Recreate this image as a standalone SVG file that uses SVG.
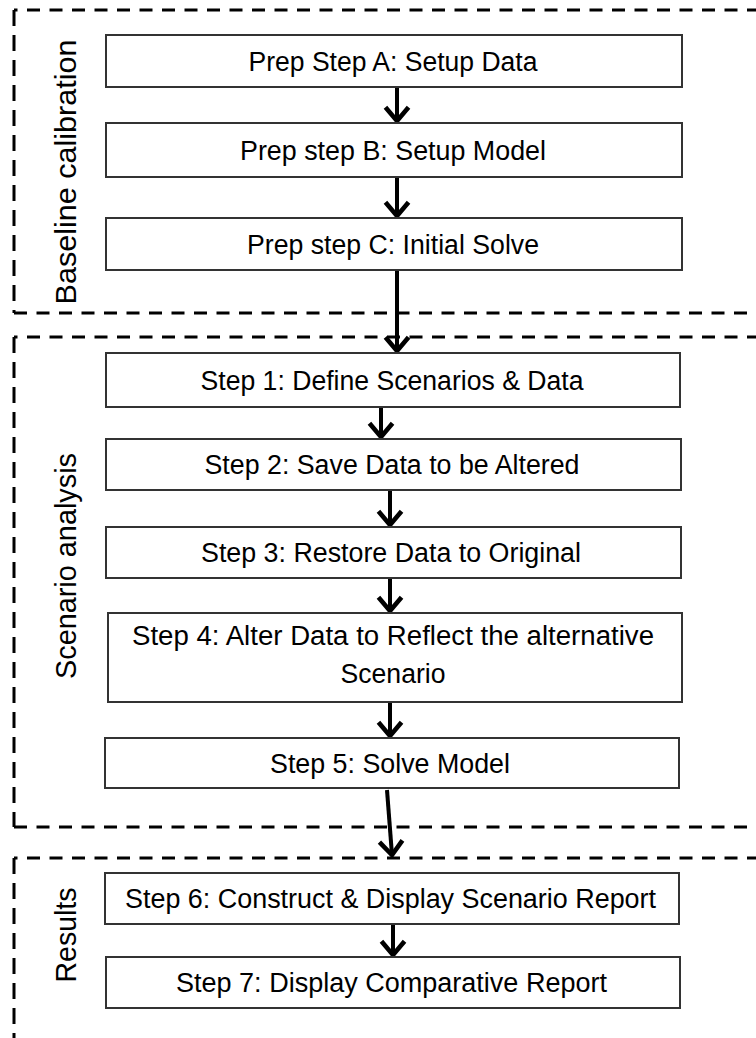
<svg xmlns="http://www.w3.org/2000/svg" width="756" height="1038" viewBox="0 0 756 1038">
<defs>
<style>
.grp{fill:none;stroke:#000;stroke-width:3}
.h{stroke-dasharray:13 9.5}
.v{stroke-dasharray:16 9}
.box{fill:#fff;stroke:#333;stroke-width:2}
.t{font-family:"Liberation Sans",Arial,sans-serif;font-size:27px;fill:#000;text-anchor:middle}
.lbl{font-family:"Liberation Sans",Arial,sans-serif;font-size:30px;fill:#000;text-anchor:middle}
.arr{fill:none;stroke:#000;stroke-width:4;marker-end:url(#ah)}
</style>
<marker id="ah" markerUnits="userSpaceOnUse" markerWidth="30" markerHeight="30" viewBox="-16 -13 20 26" refX="0" refY="0" orient="auto">
<path d="M -12 -10 L 0 0 L -12 10" fill="none" stroke="#000" stroke-width="4" stroke-linejoin="miter"/>
</marker>
</defs>
<rect width="756" height="1038" fill="#fff"/>
<g id="groups">
<g id="baseline-group">
<path class="grp h" d="M 760 10 H 14"/>
<path class="grp v" d="M 14 10 V 313"/>
<path class="grp h" d="M 14 313 H 760"/>
<text class="lbl" x="76" y="172" transform="rotate(-90 76 172)" textLength="265" lengthAdjust="spacingAndGlyphs">Baseline calibration</text>
</g>
<g id="scenario-group">
<path class="grp h" d="M 760 337 H 14"/>
<path class="grp v" d="M 14 337 V 827"/>
<path class="grp h" d="M 14 827 H 760"/>
<text class="lbl" x="76" y="566" transform="rotate(-90 76 566)" textLength="226" lengthAdjust="spacingAndGlyphs">Scenario analysis</text>
</g>
<g id="results-group">
<path class="grp h" d="M 760 858 H 14"/>
<path class="grp v" d="M 14 858 V 1040"/>
<text class="lbl" x="76" y="935" transform="rotate(-90 76 935)" textLength="95" lengthAdjust="spacingAndGlyphs">Results</text>
</g>
</g>
<g id="connectors">
<path class="arr" d="M 397 87 V 121"/>
<path class="arr" d="M 397 177 V 216"/>
<path class="arr" d="M 397 271 V 351"/>
<path class="arr" d="M 381 407 V 437"/>
<path class="arr" d="M 390 490 V 525"/>
<path class="arr" d="M 390 578 V 611"/>
<path class="arr" d="M 390 702 V 736"/>
<path class="arr" d="M 387 790 L 392 855"/>
<path class="arr" d="M 393 924 V 955"/>
</g>
<g id="stepA"><rect class="box" x="106" y="35" width="576" height="52"/><text class="t" x="393" y="70.5" textLength="289" lengthAdjust="spacingAndGlyphs">Prep Step A: Setup Data</text></g>
<g id="stepB"><rect class="box" x="106" y="123" width="576" height="54"/><text class="t" x="393" y="159.5" textLength="306" lengthAdjust="spacingAndGlyphs">Prep step B: Setup Model</text></g>
<g id="stepC"><rect class="box" x="106" y="218" width="576" height="52"/><text class="t" x="393" y="253.5" textLength="292" lengthAdjust="spacingAndGlyphs">Prep step C: Initial Solve</text></g>
<g id="step1"><rect class="box" x="106" y="353" width="574" height="54"/><text class="t" x="392" y="389.5" textLength="383" lengthAdjust="spacingAndGlyphs">Step 1: Define Scenarios &amp; Data</text></g>
<g id="step2"><rect class="box" x="106" y="439" width="575" height="51"/><text class="t" x="392" y="474" textLength="375" lengthAdjust="spacingAndGlyphs">Step 2: Save Data to be Altered</text></g>
<g id="step3"><rect class="box" x="106" y="527" width="575" height="51"/><text class="t" x="391" y="562" textLength="380" lengthAdjust="spacingAndGlyphs">Step 3: Restore Data to Original</text></g>
<g id="step4"><rect class="box" x="108" y="613" width="574" height="89"/><text class="t" x="393" y="645" textLength="522" lengthAdjust="spacingAndGlyphs">Step 4: Alter Data to Reflect the alternative</text><text class="t" x="393" y="683" textLength="105" lengthAdjust="spacingAndGlyphs">Scenario</text></g>
<g id="step5"><rect class="box" x="105" y="738" width="574" height="50"/><text class="t" x="390" y="772.5" textLength="240" lengthAdjust="spacingAndGlyphs">Step 5: Solve Model</text></g>
<g id="step6"><rect class="box" x="105" y="873" width="574" height="51"/><text class="t" x="390.5" y="908" textLength="531" lengthAdjust="spacingAndGlyphs">Step 6: Construct &amp; Display Scenario Report</text></g>
<g id="step7"><rect class="box" x="106" y="957" width="574" height="51"/><text class="t" x="391.5" y="992" textLength="431" lengthAdjust="spacingAndGlyphs">Step 7: Display Comparative Report</text></g>
</svg>
